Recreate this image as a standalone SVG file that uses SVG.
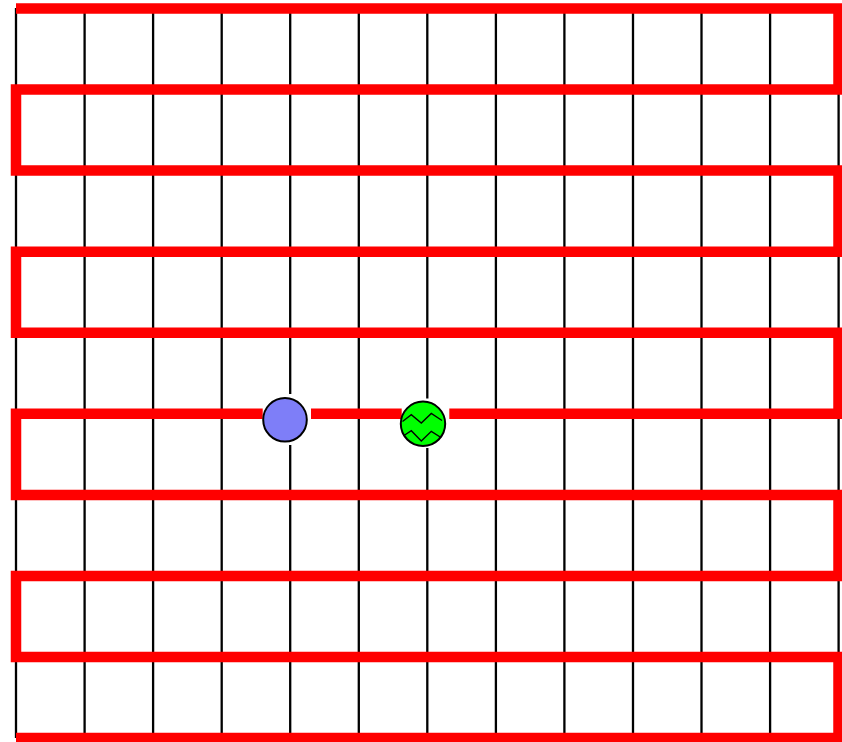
<svg xmlns="http://www.w3.org/2000/svg" width="842" height="742" viewBox="0 0 842 742">
  <style>
    .grid { stroke: #000; stroke-width: 2.3; fill: none; }
    .track { stroke: #ff0000; stroke-width: 10.5; fill: none; stroke-linejoin: miter; stroke-linecap: butt; }
    .node { stroke: #000; stroke-width: 2; }
    .zig { stroke: #000; stroke-width: 1.4; fill: none; }
  </style>
  <rect width="842" height="742" fill="#fff"/>
  <g id="grid" class="grid">
    <line x1="16" y1="8" x2="16" y2="738"/>
    <line x1="84.6" y1="8" x2="84.6" y2="738"/>
    <line x1="153.1" y1="8" x2="153.1" y2="738"/>
    <line x1="221.7" y1="8" x2="221.7" y2="738"/>
    <line x1="290.2" y1="8" x2="290.2" y2="394"/>
    <line x1="290.2" y1="445" x2="290.2" y2="738"/>
    <line x1="358.8" y1="8" x2="358.8" y2="738"/>
    <line x1="427.3" y1="8" x2="427.3" y2="398.5"/>
    <line x1="427.3" y1="448" x2="427.3" y2="738"/>
    <line x1="495.9" y1="8" x2="495.9" y2="738"/>
    <line x1="564.4" y1="8" x2="564.4" y2="738"/>
    <line x1="633" y1="8" x2="633" y2="738"/>
    <line x1="701.5" y1="8" x2="701.5" y2="738"/>
    <line x1="770.1" y1="8" x2="770.1" y2="738"/>
    <line x1="838.6" y1="8" x2="838.6" y2="738"/>
  </g>
  <g id="connectors">
    <path class="track" d="M16,8.5 H838.5 V89.6 H16 V170.6 H838.5 V251.7 H16 V332.7 H838.5 V413.8 H449.3"/>
    <path class="track" d="M401.7,413.8 H311"/>
    <path class="track" d="M262.7,413.8 H16 V494.9 H838.5 V575.9 H16 V657 H838.5 V738 H16"/>
  </g>
  <g id="node-blue">
    <circle class="node" cx="285" cy="419.8" r="21.8" fill="#7e7ef8"/>
  </g>
  <g id="node-green">
    <circle class="node" cx="423" cy="423.8" r="22.2" fill="#00ff00"/>
    <polyline class="zig" points="402.5,421.5 411.3,414.7 421.3,423 431.3,413.5 442,420.5"/>
    <polyline class="zig" points="404,435.5 411.3,430.7 421.3,441 431.3,431.3 441,437.5"/>
  </g>
</svg>
